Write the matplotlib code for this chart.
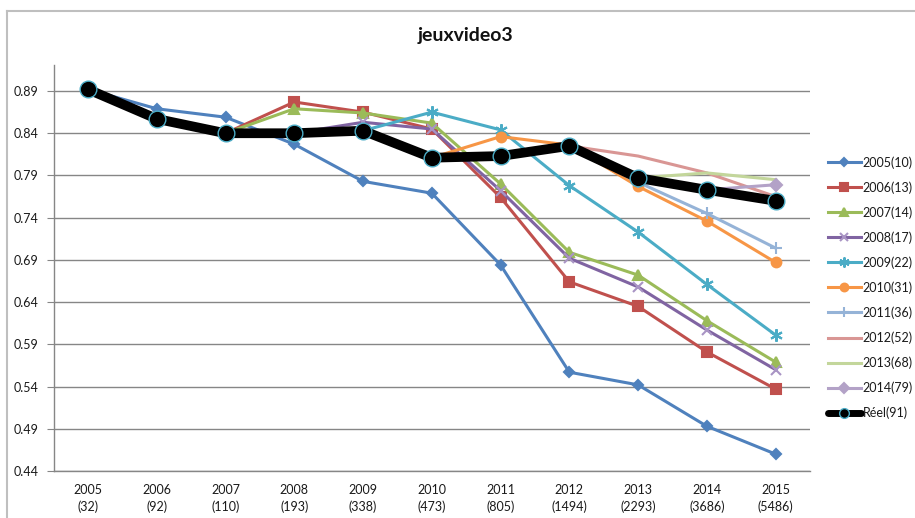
import numpy as np
import matplotlib
matplotlib.use("Agg")
import matplotlib.pyplot as plt
from matplotlib.lines import Line2D

nan = np.nan

years = ["2005", "2006", "2007", "2008", "2009", "2010",
         "2011", "2012", "2013", "2014", "2015"]
counts = [32, 92, 110, 193, 338, 473, 805, 1494, 2293, 3686, 5486]

s2005 = [0.892, 0.869, 0.859, 0.827, 0.783, 0.769, 0.684, 0.557, 0.542, 0.493, 0.460]
s2006 = [nan, nan, 0.840, 0.877, 0.865, 0.845, 0.764, 0.664, 0.635, 0.581, 0.537]
s2007 = [nan, nan, 0.840, 0.869, 0.864, 0.852, 0.780, 0.699, 0.672, 0.618, 0.569]
s2008 = [nan, nan, nan, 0.840, 0.853, 0.845, 0.772, 0.692, 0.658, 0.607, 0.560]
s2009 = [nan, nan, nan, nan, 0.843, 0.865, 0.844, 0.778, 0.723, 0.661, 0.601]
s2010 = [nan, nan, nan, nan, nan, 0.811, 0.836, 0.826, 0.777, 0.736, 0.687]
s2011 = [nan, nan, nan, nan, nan, nan, 0.813, 0.825, 0.782, 0.745, 0.704]
s2012 = [nan, nan, nan, nan, nan, nan, nan, 0.825, 0.813, 0.793, 0.765]
s2013 = [nan, nan, nan, nan, nan, nan, nan, nan, 0.787, 0.793, 0.785]
s2014 = [nan, nan, nan, nan, nan, nan, nan, nan, nan, 0.773, 0.779]
reel = [0.892, 0.857, 0.840, 0.840, 0.843, 0.811, 0.813, 0.825, 0.787, 0.773, 0.760]

series_labels = ["2005(10)", "2006(13)", "2007(14)", "2008(17)", "2009(22)",
                 "2010(31)", "2011(36)", "2012(52)", "2013(68)", "2014(79)"]
series_values = [s2005, s2006, s2007, s2008, s2009,
                 s2010, s2011, s2012, s2013, s2014]

styles = [
    dict(color="#4F81BD", marker="D", ms=5),
    dict(color="#C0504D", marker="s", ms=7),
    dict(color="#9BBB59", marker="^", ms=7.5),
    dict(color="#8064A2", marker="x", ms=7, mec="#A994C4"),
    dict(color="#4BACC6", marker=(6, 2, 0), ms=9),
    dict(color="#F79646", marker="o", ms=7),
    dict(color="#95B3D7", marker="+", ms=9),
    dict(color="#D99694", marker=None, ms=0),
    dict(color="#C3D69B", marker=None, ms=0),
    dict(color="#B3A2C7", marker="D", ms=6),
]

plt.rcParams["font.family"] = ["Lato", "DejaVu Sans"]

W, H = 915, 518
fig = plt.figure(figsize=(W / 100, H / 100), dpi=100)
ax = fig.add_axes([53.6 / W, 1 - 471 / H, (810 - 53.6) / W, (471 - 65) / H])

x = np.arange(len(years))
for vals, lab, st in zip(series_values, series_labels, styles):
    mec = st.get("mec", st["color"])
    ax.plot(x, vals, color=st["color"], lw=2.2, marker=st["marker"],
            ms=st["ms"], mfc=st["color"], mec=mec, mew=1.5,
            label=lab, zorder=3)

ax.plot(x, reel, color="black", lw=7, marker="o", ms=12, mfc="black",
        mec="#4BACC6", mew=1.0, label="Réel(91)", zorder=5,
        solid_capstyle="round")

ax.set_xlim(-0.5, len(years) - 0.5)
ax.set_ylim(0.44, 0.44 + (471 - 65) / 844.4)
yt = [0.44 + 0.05 * k for k in range(10)]
ax.set_yticks(yt)
ax.set_yticklabels([f"{v:.2f}" for v in yt])
ax.set_xticks(x)
ax.set_xticklabels([f"{y}\n({c})" for y, c in zip(years, counts)],
                   linespacing=1.5)

ax.grid(axis="y", color="#868686", lw=1.0)
ax.set_axisbelow(True)
for s in ("top", "right"):
    ax.spines[s].set_visible(False)
for s in ("left", "bottom"):
    ax.spines[s].set_color("#868686")
    ax.spines[s].set_linewidth(1.0)
ax.tick_params(axis="y", length=5, color="#868686", labelsize=9,
               pad=6, labelcolor="#1a1a1a")
ax.tick_params(axis="x", length=0, labelsize=9, pad=9,
               labelcolor="#1a1a1a")

fig.text(465 / W, 1 - 36 / H, "jeuxvideo3", ha="center", va="center",
         fontsize=14, fontweight="bold", color="#111111")

leg = ax.legend(loc="upper left", bbox_to_anchor=(828 / W, 1 - 156 / H),
                bbox_transform=fig.transFigure, frameon=False,
                fontsize=9, handlelength=2.6, handletextpad=0.15,
                labelspacing=1.0, borderaxespad=0, borderpad=0,
                markerscale=0.8)
for t in leg.get_texts():
    t.set_color("#1a1a1a")
reel_handle = leg.legend_handles[-1]
reel_handle.set_markersize(7)
reel_handle.set_linewidth(5)

# chart frame
fig.add_artist(Line2D([7 / W, 7 / W], [0, 1 - 11 / H], color="#BFBFBF",
                      lw=1.5, transform=fig.transFigure))
fig.add_artist(Line2D([7 / W, 1], [1 - 11 / H, 1 - 11 / H], color="#BFBFBF",
                      lw=1.5, transform=fig.transFigure))

fig.savefig("out.png", dpi=100, facecolor="white")
